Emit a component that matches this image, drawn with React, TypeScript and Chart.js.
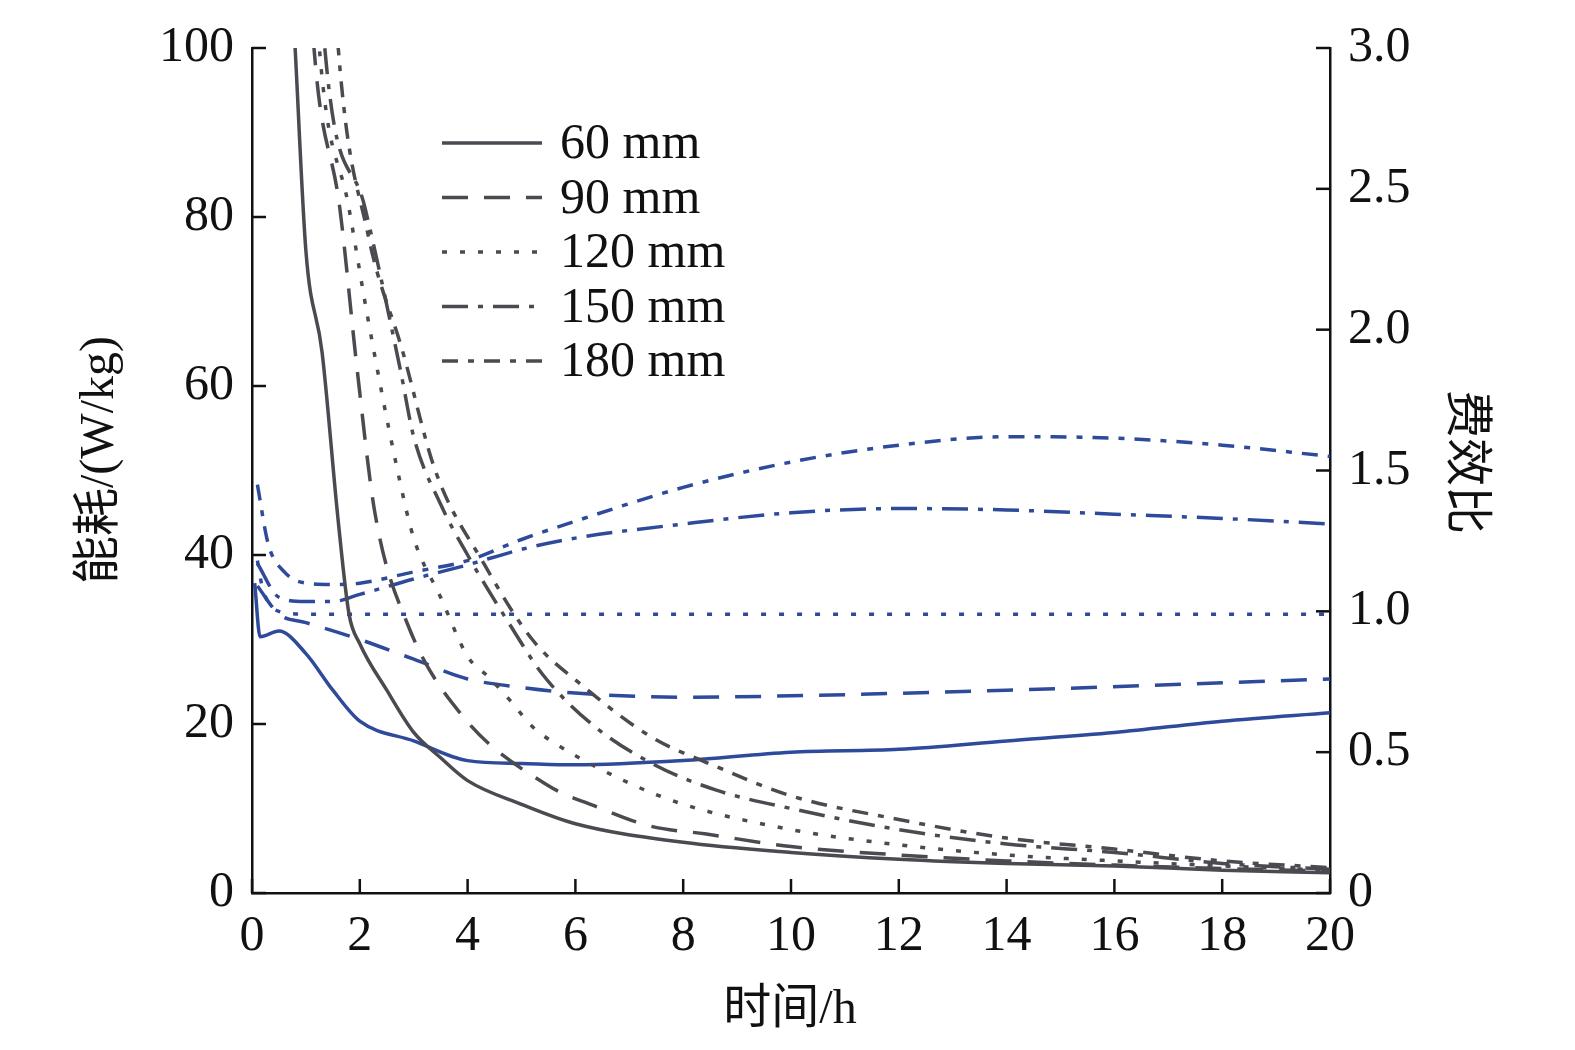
import React, { useEffect, useRef } from "react";
import { Chart, registerables } from "chart.js";
Chart.register(...registerables);

const legendLabels = ["60 mm", "90 mm", "120 mm", "150 mm", "180 mm"];
const dashes: number[][] = [[], [26, 16], [5, 13], [26, 10, 5, 10], [16, 10, 6, 10]];

// energy consumption (left axis)
const e60t = [0.75, 0.8, 1.0, 1.3, 1.6, 1.8, 2.0, 2.5, 3.0, 3.5, 4, 5, 6, 8, 10, 12, 14, 16, 18, 20];
const e60v = [106, 100, 76, 64, 44, 33, 29.5, 24, 19, 16, 13.3, 10.5, 8.2, 6, 4.8, 4, 3.5, 3.2, 2.7, 2.4];
const e90t = [1.1, 1.15, 1.63, 1.95, 2.28, 2.9, 3.9, 5.5, 6.4, 7.4, 8.4, 10, 12, 14, 16, 18, 20];
const e90v = [106, 100, 81, 62, 45, 31.6, 21, 12.7, 10.2, 7.9, 7, 5.5, 4.5, 3.8, 3.3, 2.9, 2.6];
const e120t = [1.2, 1.25, 1.8, 2.15, 2.7, 3.0, 3.5, 4.0, 4.4, 4.8, 5.2, 5.7, 7, 8, 10, 12, 14, 16, 18, 20];
const e120v = [106, 100, 81, 68, 50, 42, 35, 28, 25.5, 22.7, 19.7, 17.4, 13, 10.5, 7.5, 5.7, 4.5, 3.8, 3.2, 2.7];
const e150t = [1.3, 1.35, 2.1, 2.75, 3.0, 3.5, 4.0, 4.8, 5.4, 6.3, 7.4, 8.6, 10, 12, 14, 16, 18, 20];
const e150v = [106, 100, 81, 62, 54, 46, 40, 31.6, 25.8, 20, 15.4, 12.2, 10, 7.5, 5.8, 4.8, 3.5, 2.8];
const e180t = [1.55, 1.6, 2.15, 2.8, 3.4, 4.3, 5.2, 6.1, 7.4, 8.6, 10, 12, 14, 16, 18, 20];
const e180v = [106, 100, 78, 64, 50, 39, 30, 24.7, 18.5, 15, 11.5, 8.7, 6.5, 5.2, 3.8, 3.0];

// cost-effectiveness ratio (right axis)
const r60t = [0.05, 0.15, 0.5, 1, 1.5, 2, 3, 4, 5, 6, 8, 10, 12, 14, 16, 18, 20];
const r60v = [1.1, 0.91, 0.93, 0.85, 0.72, 0.61, 0.54, 0.47, 0.46, 0.455, 0.47, 0.5, 0.51, 0.54, 0.57, 0.61, 0.64];
const r90t = [0.1, 0.5, 1, 2, 3, 4, 5, 6, 8, 10, 14, 20];
const r90v = [1.09, 0.99, 0.96, 0.9, 0.83, 0.76, 0.73, 0.71, 0.695, 0.7, 0.72, 0.76];
const r120t = [0.1, 0.2, 0.5, 1, 2, 5, 10, 15, 20];
const r120v = [1.18, 1.08, 1.0, 0.99, 0.99, 0.99, 0.99, 0.99, 0.99];
const r150t = [0.1, 0.5, 1, 1.5, 2, 3, 4, 5, 6, 8, 10, 12, 14, 16, 18, 20];
const r150v = [1.17, 1.05, 1.035, 1.035, 1.06, 1.115, 1.165, 1.22, 1.26, 1.31, 1.35, 1.365, 1.36, 1.345, 1.33, 1.31];
const r180t = [0.1, 0.3, 0.6, 1, 1.5, 2, 3, 4, 5, 6, 8, 10, 12, 14, 16, 18, 20];
const r180v = [1.45, 1.24, 1.14, 1.1, 1.095, 1.1, 1.14, 1.18, 1.255, 1.32, 1.44, 1.53, 1.59, 1.62, 1.615, 1.59, 1.55];

const GRAY = "#4a4a50";
const BLUE = "#2e4a9a";
const FONT = "'Liberation Serif', 'Times New Roman', serif";
const CJK = "'Liberation Serif', 'Noto Sans CJK SC', serif";

const pts = (t: number[], v: number[]) => t.map((x, i) => ({ x, y: v[i] }));

export default function App() {
  const ref = useRef<HTMLCanvasElement>(null);
  useEffect(() => {
    const energy = [[e60t, e60v], [e90t, e90v], [e120t, e120v], [e150t, e150v], [e180t, e180v]];
    const ratio = [[r60t, r60v], [r90t, r90v], [r120t, r120v], [r150t, r150v], [r180t, r180v]];
    const datasets: any[] = [];
    energy.forEach(([t, v], i) =>
      datasets.push({ data: pts(t, v), yAxisID: "y", borderColor: GRAY, borderWidth: 3.5, borderDash: dashes[i], pointRadius: 0, cubicInterpolationMode: "monotone", fill: false })
    );
    ratio.forEach(([t, v], i) =>
      datasets.push({ data: pts(t, v), yAxisID: "y1", borderColor: BLUE, borderWidth: 3.5, borderDash: dashes[i], pointRadius: 0, cubicInterpolationMode: "monotone", fill: false })
    );
    const tickFont = { family: FONT, size: 50 };
    const overlay = {
      id: "overlay",
      afterDraw(chart: any) {
        const ctx = chart.ctx;
        const ca = chart.chartArea;
        ctx.save();
        ctx.strokeStyle = "#111";
        ctx.lineWidth = 2.5;
        const L = 14;
        chart.scales.x.ticks.forEach((tk: any) => {
          const px = chart.scales.x.getPixelForValue(tk.value);
          ctx.beginPath(); ctx.moveTo(px, ca.bottom); ctx.lineTo(px, ca.bottom - L); ctx.stroke();
        });
        chart.scales.y.ticks.forEach((tk: any) => {
          const py = chart.scales.y.getPixelForValue(tk.value);
          ctx.beginPath(); ctx.moveTo(ca.left, py); ctx.lineTo(ca.left + L, py); ctx.stroke();
        });
        chart.scales.y1.ticks.forEach((tk: any) => {
          const py = chart.scales.y1.getPixelForValue(tk.value);
          ctx.beginPath(); ctx.moveTo(ca.right, py); ctx.lineTo(ca.right - L, py); ctx.stroke();
        });
        // legend
        ctx.font = `50px ${FONT}`;
        ctx.textBaseline = "middle";
        legendLabels.forEach((lab, i) => {
          const y = 143 + i * 54.5;
          ctx.strokeStyle = GRAY;
          ctx.lineWidth = 3.5;
          ctx.setLineDash(dashes[i]);
          ctx.beginPath(); ctx.moveTo(442, y); ctx.lineTo(542, y); ctx.stroke();
          ctx.setLineDash([]);
          ctx.fillStyle = "#111";
          ctx.fillText(lab, 560, y + 2);
        });
        // axis titles
        ctx.fillStyle = "#111";
        ctx.textAlign = "center";
        ctx.font = `48px ${CJK}`;
        ctx.fillText("时间/h", 790, 1010);
        ctx.save();
        ctx.translate(100, 460); ctx.rotate(-Math.PI / 2);
        ctx.fillText("能耗/(W/kg)", 0, 0);
        ctx.restore();
        ctx.save();
        ctx.translate(1465, 462); ctx.rotate(Math.PI / 2);
        ctx.fillText("费效比", 0, 0);
        ctx.restore();
        ctx.restore();
      },
    };
    const chart = new Chart(ref.current!, {
      type: "line",
      data: { datasets },
      plugins: [overlay],
      options: {
        animation: false,
        responsive: false,
        maintainAspectRatio: false,
        layout: { padding: { top: 16, left: 0, right: 0, bottom: 0 } },
        plugins: { legend: { display: false }, tooltip: { enabled: false } },
        scales: {
          x: {
            type: "linear", min: 0, max: 20,
            ticks: { stepSize: 2, color: "#111", font: tickFont, padding: 14, maxRotation: 0 },
            grid: { display: false, drawTicks: false },
            border: { display: true, color: "#111", width: 2.5 },
            afterFit(s: any) { s.height = 157; },
          },
          y: {
            type: "linear", position: "left", min: 0, max: 100,
            ticks: { stepSize: 20, color: "#111", font: tickFont, padding: 18 },
            grid: { display: false, drawTicks: false },
            border: { display: true, color: "#111", width: 2.5 },
            afterFit(s: any) { s.width = 252; },
          },
          y1: {
            type: "linear", position: "right", min: 0, max: 3,
            ticks: { stepSize: 0.5, color: "#111", font: tickFont, padding: 18, callback: (v: any) => (v === 0 ? "0" : Number(v).toFixed(1)) },
            grid: { display: false, drawTicks: false },
            border: { display: true, color: "#111", width: 2.5 },
            afterFit(s: any) { s.width = 245; },
          },
        },
      } as any,
    });
    return () => chart.destroy();
  }, []);
  return (
    <div style={{ position: "absolute", left: 0, top: 0, width: 1575, height: 1050, background: "#fff" }}>
      <canvas ref={ref} width={1575} height={1050} style={{ width: 1575, height: 1050 }} />
    </div>
  );
}
